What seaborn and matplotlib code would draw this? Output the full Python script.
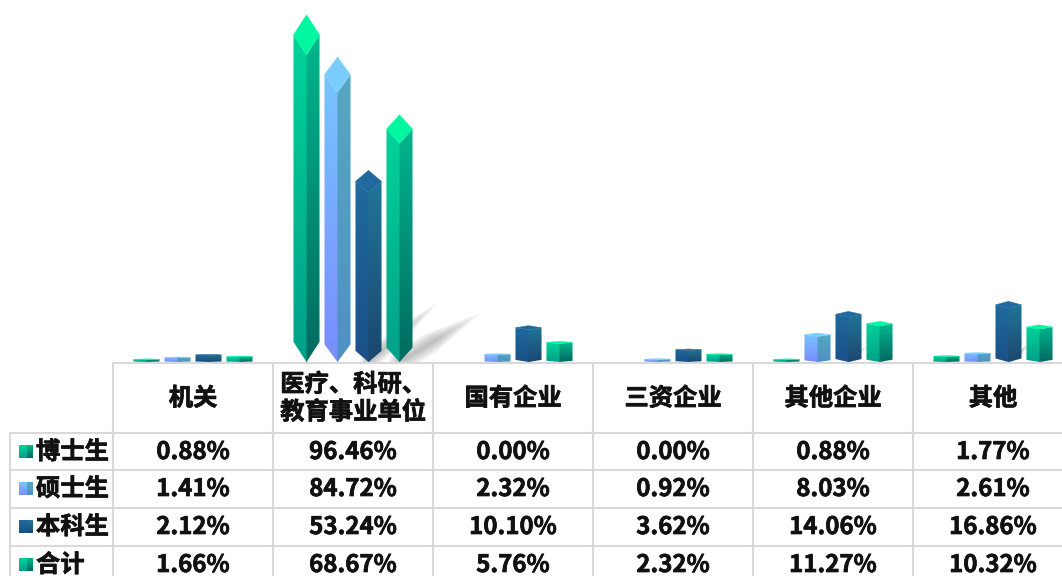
import numpy as np
import matplotlib
matplotlib.use('Agg')
import matplotlib.pyplot as plt
import matplotlib.patheffects as pe
import pandas as pd
import seaborn as sns
from matplotlib.colors import LinearSegmentedColormap
from matplotlib.patches import Polygon

categories = ['机关', '医疗、科研、\n教育事业单位', '国有企业', '三资企业', '其他企业', '其他']
series_names = ['博士生', '硕士生', '本科生', '合计']
phd = [0.88, 96.46, 0.00, 0.00, 0.88, 1.77]
master = [1.41, 84.72, 2.32, 0.92, 8.03, 2.61]
bachelor = [2.12, 53.24, 10.10, 3.62, 14.06, 16.86]
total = [1.66, 68.67, 5.76, 2.32, 11.27, 10.32]

# left face top/bottom, right face top/bottom, cap colour
green = ('#00d69b', '#00a088', '#00bb90', '#006a60', '#00f7a0')
blue = ('#78c8ff', '#7a8cff', '#55a9c0', '#5090c4', '#7ccdff')
navy = ('#1f6b9e', '#1a5088', '#21789a', '#1b4770', '#20699c')
styles = [green, blue, navy, green]
# how far each series throws its shadow, as a share of bar height
shadow_x = [0, 0, 0.36, 0.33]
shadow_y = [0, 0, 0.31, 0.20]

W, H = 1062, 576
BASE = 362
df = pd.DataFrame({'cat': categories, '博士生': phd, '硕士生': master, '本科生': bachelor, '合计': total})
long_df = df.melt(id_vars='cat', var_name='level', value_name='pct')

sns.set_theme(style='white')
plt.rcParams['font.family'] = ['Noto Sans CJK SC', 'DejaVu Sans']

fig = plt.figure(figsize=(W / 100, H / 100), dpi=100)
ax = fig.add_axes([113 / W, 1 - BASE / H, 960 / W, BASE / H])
sns.barplot(data=long_df, x='cat', y='pct', hue='level', order=categories, hue_order=series_names,
            width=0.775, gap=0.16, legend=False, ax=ax)
ax.set_xlim(-0.5, 5.5)
ax.set_ylim(0, BASE / 3.6)
xlim, ylim = ax.get_xlim(), ax.get_ylim()
ax.axis('off')


def gradient(axes, top, bottom, extent, clip, z):
    cmap = LinearSegmentedColormap.from_list('g', [top, bottom])
    im = axes.imshow(np.linspace(0, 1, 128).reshape(-1, 1), cmap=cmap, extent=extent,
                     aspect='auto', origin='upper', zorder=z, interpolation='bilinear')
    poly = Polygon(clip, transform=axes.transData, fc='none', ec='none')
    axes.add_patch(poly)
    im.set_clip_path(poly)


# soft shadows: stacked round strokes, shorter and wider each pass
for cont, sx, sy in zip(ax.containers, shadow_x, shadow_y):
    for p in cont:
        h = p.get_height()
        if h == 0 or sx == 0:
            continue
        x0 = p.get_x() + p.get_width() / 2
        dx, dy = h * 3.6 * sx / 160, h * sy
        for k in range(14):
            frac = 1 - k * 0.05
            ax.plot([x0, x0 + dx * frac], [0, dy * frac], color='#5a5a5a', alpha=0.03,
                    lw=0.8 + k * h * 0.017, solid_capstyle='round', zorder=1)

for cont, st in zip(ax.containers, styles):
    for p in cont:
        x0, w, h = p.get_x(), p.get_width(), p.get_height()
        p.set_visible(False)
        if h == 0:
            continue
        xm = x0 + w / 2
        x1 = x0 + w
        d = max(h * 0.058, 0.12)
        sh = h - d
        ext = [x0, x1, 0, h]
        # right face is drawn after and the left one runs a bit under it, no seam between them
        gradient(ax, st[0], st[1], ext, [(x0, d), (x0, sh), (xm, sh - d), (xm + 0.004, sh - d), (xm + 0.004, 0), (xm, 0)], 3)
        gradient(ax, st[2], st[3], ext, [(xm, 0), (xm, sh - d), (x1, sh), (x1, d)], 3)
        ax.add_patch(Polygon([(x0, sh), (xm, h), (x1, sh), (xm, sh - d)], fc=st[4], ec=st[4], lw=0.3, zorder=4))

ax.set_xlim(xlim)
ax.set_ylim(ylim)

# table lies over the whole figure in pixel units
tb = fig.add_axes([0, 0, 1, 1])
tb.set_xlim(0, W)
tb.set_ylim(H, 0)
tb.axis('off')
tb.patch.set_alpha(0)

col_x = [113, 273, 433, 593, 753, 913, 1073]
row_y = [433, 470, 508, 546]
line_c = '#d9d9d9'
tb.plot([113, W], [363, 363], color=line_c, lw=1.5)
for y in row_y:
    tb.plot([10, W], [y, y], color=line_c, lw=1.5)
tb.plot([10, 10], [433, H], color=line_c, lw=1.5)
for x in col_x[:-1]:
    tb.plot([x, x], [363, H], color=line_c, lw=1.5)

heavy = [pe.withStroke(linewidth=0.5, foreground='#111111')]
for i, c in enumerate(categories):
    tb.text((col_x[i] + col_x[i + 1]) / 2, 398.5, c, ha='center', va='center', fontsize=17.5,
            fontweight='bold', color='#111111', linespacing=1.2, path_effects=heavy)

rows = [phd, master, bachelor, total]
text_y = [452, 489, 527, 565]
for name, vals, y, st in zip(series_names, rows, text_y, styles):
    tb.text(36, y, name, ha='left', va='center', fontsize=17.5, fontweight='bold', color='#111111',
            path_effects=heavy)
    # little legend cube, sits a bit above the text centre
    cy = y - 0.5
    gradient(tb, st[0], st[1], [19, 28, cy + 6.5, cy - 6.5], [(19, cy - 6.5), (28, cy - 6.5), (28, cy + 6.5), (19, cy + 6.5)], 3)
    gradient(tb, st[2], st[3], [27, 33, cy + 6.5, cy - 6.5], [(27, cy - 6.5), (33, cy - 6.5), (33, cy + 6.5), (27, cy + 6.5)], 3)
    for i, v in enumerate(vals):
        tb.text((col_x[i] + col_x[i + 1]) / 2, y, f'{v:.2f}%', ha='center', va='center', fontsize=17.3,
                fontweight='bold', color='#111111', path_effects=heavy)

tb.set_xlim(0, W)
tb.set_ylim(H, 0)
fig.savefig('out.png', dpi=100)
